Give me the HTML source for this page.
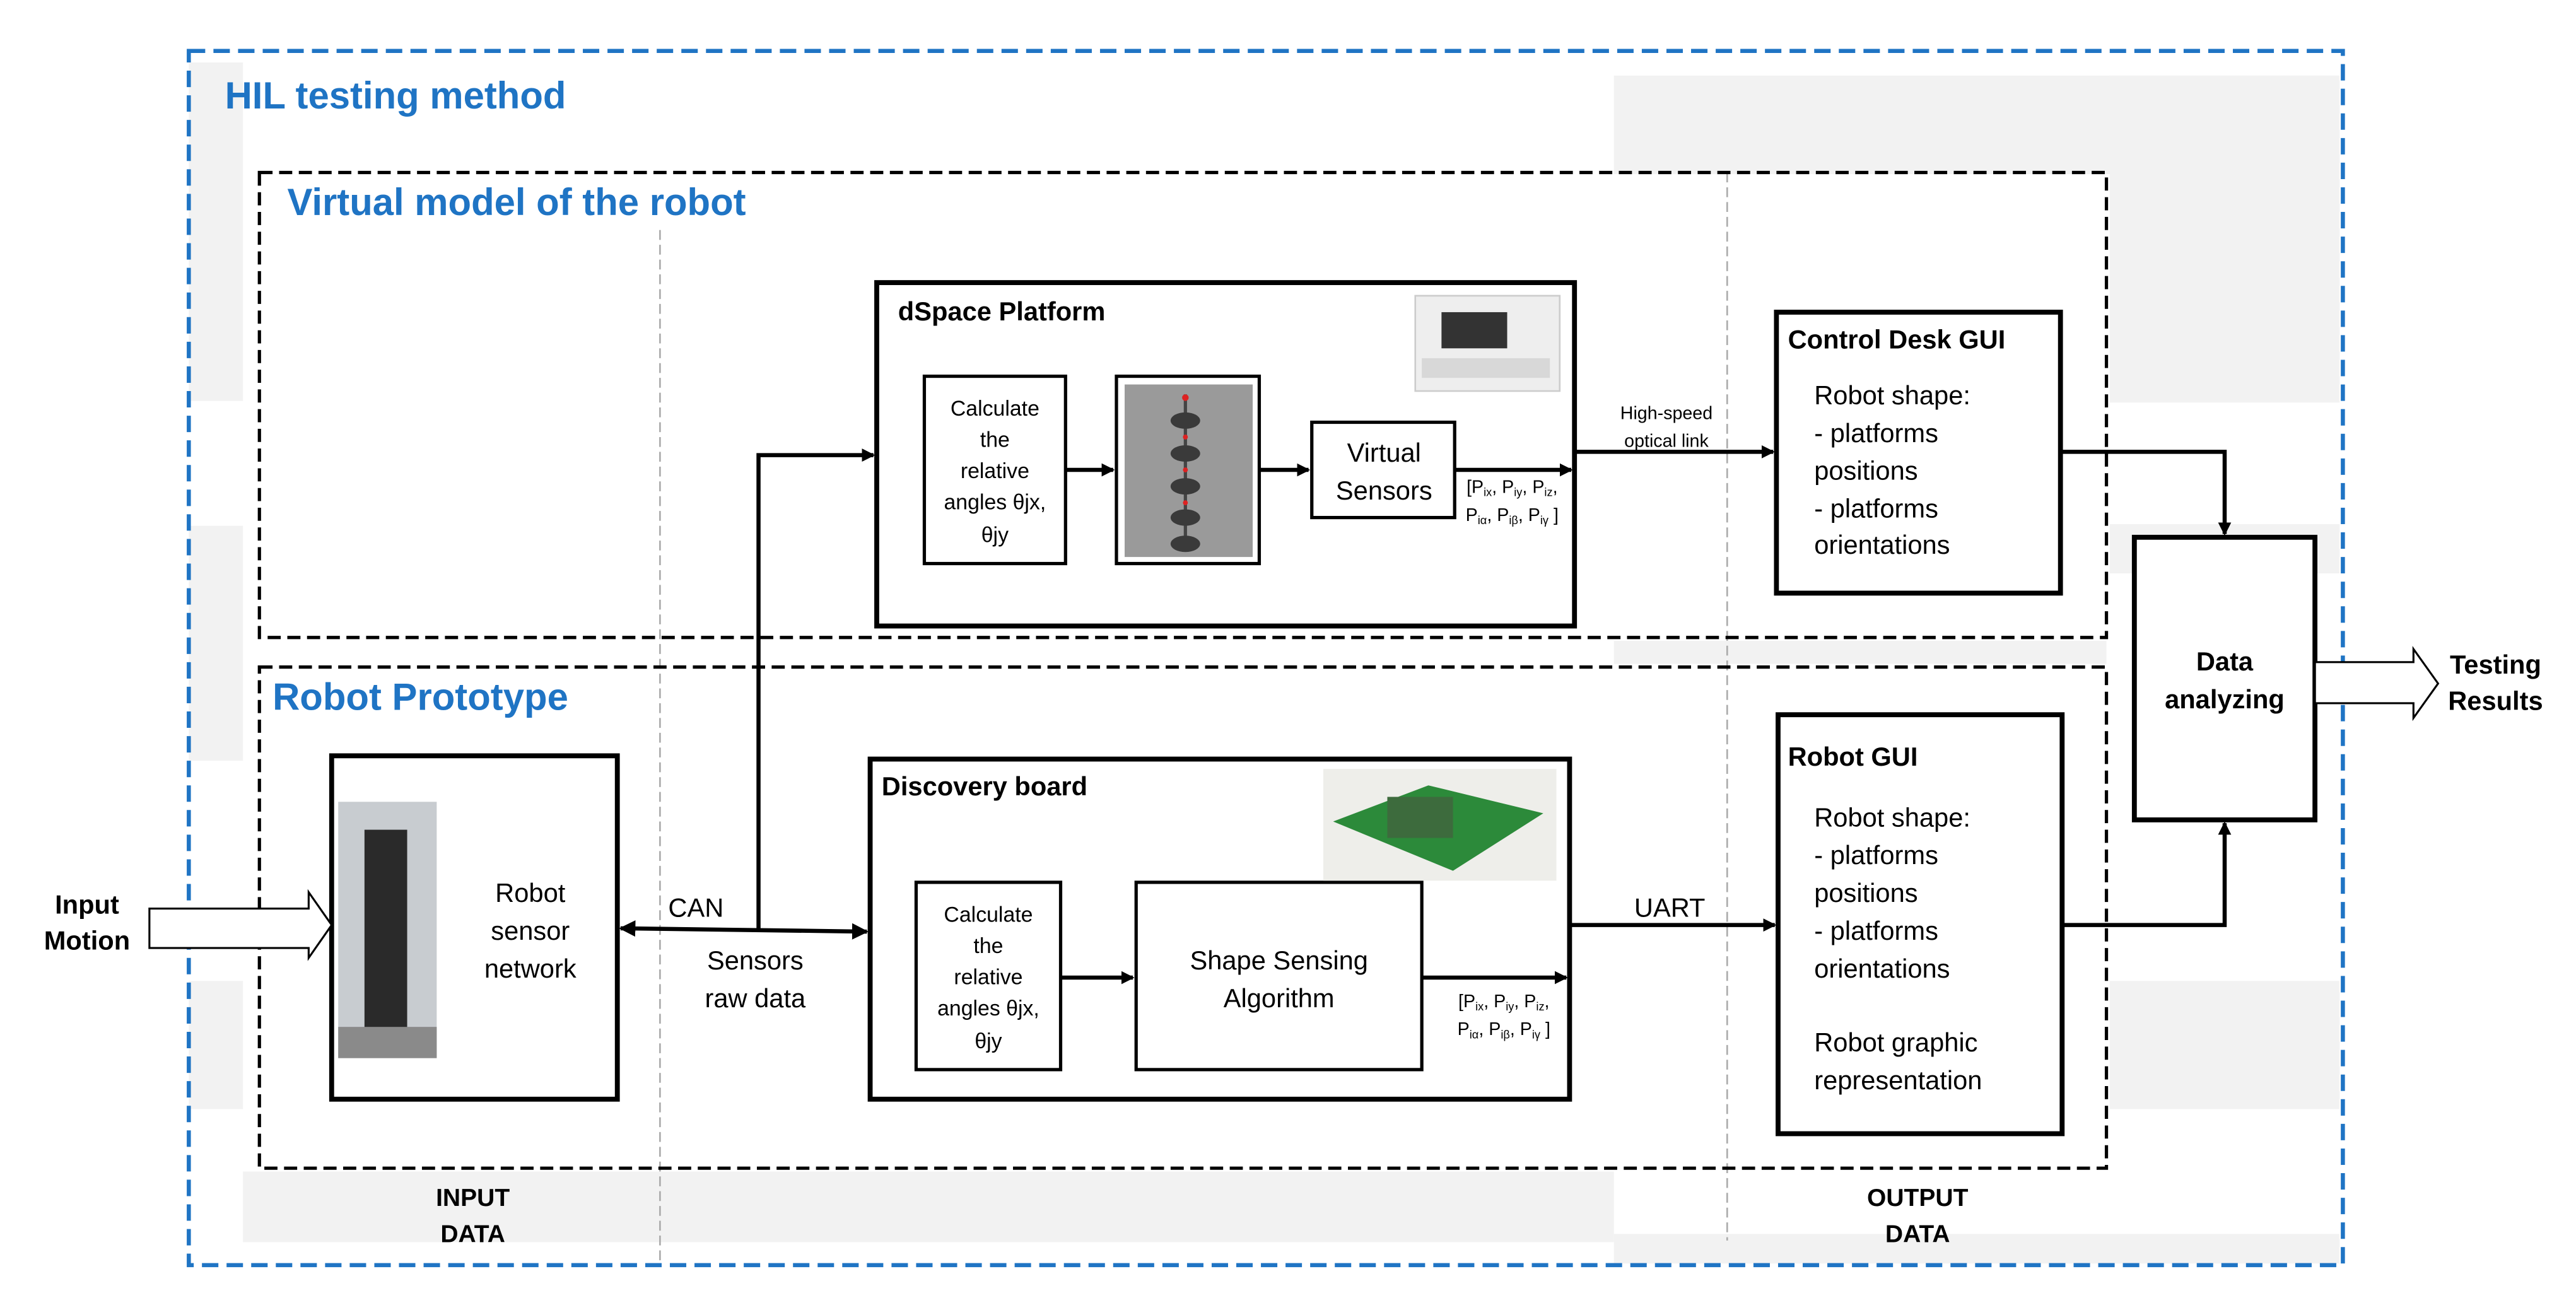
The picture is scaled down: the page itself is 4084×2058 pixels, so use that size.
<!DOCTYPE html>
<html><head><meta charset="utf-8"><style>
html,body{margin:0;padding:0;background:#fff;width:4084px;height:2058px;overflow:hidden}
svg{display:block}
text{font-family:"Liberation Sans",sans-serif}
</style></head><body>
<svg width="4084" height="2058" viewBox="0 0 1569 790" preserveAspectRatio="none" xmlns="http://www.w3.org/2000/svg">
<defs>
<marker id="a" markerWidth="8" markerHeight="8" refX="7" refY="4" orient="auto" markerUnits="userSpaceOnUse" viewBox="0 0 8 8"><path d="M0,0 L8,4 L0,8 z" fill="#000"/></marker>
<marker id="as" markerWidth="10" markerHeight="10" refX="9" refY="5" orient="auto-start-reverse" markerUnits="userSpaceOnUse" viewBox="0 0 10 10"><path d="M0,0 L10,5 L0,10 z" fill="#000"/></marker>
</defs>
<g fill="#f2f2f2">
<rect x="115" y="38" width="33" height="206"/>
<rect x="115" y="320" width="33" height="143"/>
<rect x="115" y="597" width="33" height="78"/>
<rect x="983" y="46" width="442" height="60"/>
<rect x="1285" y="46" width="140" height="199"/>
<rect x="1285" y="319" width="140" height="30"/>
<rect x="1285" y="597" width="140" height="78"/>
<rect x="983" y="390" width="300" height="14"/>
<rect x="148" y="713" width="835" height="43"/>
<rect x="983" y="751" width="442" height="18"/>
</g>
<rect x="115" y="31" width="1312" height="739" fill="none" stroke="#1f74c4" stroke-width="2.5" stroke-dasharray="10,5"/>
<text x="137" y="66" font-size="23" font-weight="bold" fill="#1f74c4">HIL testing method</text>
<line x1="402" y1="140" x2="402" y2="770" stroke="#aaa" stroke-width="1" stroke-dasharray="6,3"/>
<line x1="1052" y1="105" x2="1052" y2="755" stroke="#aaa" stroke-width="1" stroke-dasharray="6,3"/>
<rect x="158" y="105" width="1125" height="283" fill="none" stroke="#000" stroke-width="2" stroke-dasharray="8,4"/>
<text x="175" y="131" font-size="23" font-weight="bold" fill="#1f74c4">Virtual model of the robot</text>
<rect x="158" y="406" width="1125" height="305" fill="none" stroke="#000" stroke-width="2" stroke-dasharray="8,4"/>
<text x="166" y="432" font-size="23" font-weight="bold" fill="#1f74c4">Robot Prototype</text>

<g fill="none" stroke="#000">
<rect x="534" y="172" width="425" height="209" stroke-width="3" fill="#fff"/>
<rect x="563" y="229" width="86" height="114" stroke-width="2"/>
<rect x="680" y="229" width="87" height="114" stroke-width="2"/>
<rect x="799" y="257" width="87" height="58" stroke-width="2"/>
<rect x="1082" y="190" width="173" height="171" stroke-width="3" fill="#fff"/>
<rect x="1300" y="327" width="110" height="172" stroke-width="3" fill="#fff"/>
<rect x="1083" y="435" width="173" height="255" stroke-width="3" fill="#fff"/>
<rect x="202" y="460" width="174" height="209" stroke-width="3" fill="#fff"/>
<rect x="530" y="462" width="426" height="207" stroke-width="3" fill="#fff"/>
<rect x="558" y="537" width="88" height="114" stroke-width="2"/>
<rect x="692" y="537" width="174" height="114" stroke-width="2"/>
</g>
<rect x="685" y="234" width="78" height="105" fill="#9a9a9a"/>
<line x1="722" y1="240" x2="722" y2="330" stroke="#444" stroke-width="2"/>
<g fill="#3a3a3a">
<ellipse cx="722" cy="256" rx="9" ry="5"/><ellipse cx="722" cy="276" rx="9" ry="5"/><ellipse cx="722" cy="296" rx="9" ry="5"/><ellipse cx="722" cy="315" rx="9" ry="5"/><ellipse cx="722" cy="331" rx="9" ry="5"/>
</g>
<g fill="#d22"><circle cx="722" cy="242" r="2"/><circle cx="722" cy="266" r="1.5"/><circle cx="722" cy="286" r="1.5"/><circle cx="722" cy="306" r="1.5"/></g>
<rect x="862" y="180" width="88" height="58" fill="#eeeeee" stroke="#ccc"/>
<rect x="878" y="190" width="40" height="22" fill="#333"/>
<rect x="866" y="218" width="78" height="12" fill="#d8d8d8"/>
<rect x="806" y="468" width="142" height="68" fill="#eeeeea"/>
<polygon points="812,500 870,478 940,495 885,530" fill="#2c8a3a"/>
<rect x="845" y="485" width="40" height="25" fill="#3d6b3d"/>
<rect x="206" y="488" width="60" height="156" fill="#c8ccd0"/>
<rect x="222" y="505" width="26" height="130" fill="#2a2a2a"/>
<rect x="206" y="625" width="60" height="19" fill="#8a8a8a"/>

<g stroke="#000" stroke-width="2.5" fill="none">
<line x1="649" y1="286" x2="678" y2="286" marker-end="url(#a)"/>
<line x1="767" y1="286" x2="797" y2="286" marker-end="url(#a)"/>
<line x1="886" y1="286" x2="957" y2="286" marker-end="url(#a)"/>
<line x1="959" y1="275" x2="1080" y2="275" marker-end="url(#a)"/>
<polyline points="1255,275 1355,275 1355,325" marker-end="url(#a)"/>
<polyline points="1256,563 1355,563 1355,501" marker-end="url(#a)"/>
<line x1="956" y1="563" x2="1081" y2="563" marker-end="url(#a)"/>
<line x1="378" y1="565" x2="528" y2="567" marker-start="url(#as)" marker-end="url(#as)"/>
<polyline points="462,566 462,277 532,277" marker-end="url(#a)"/>
<line x1="646" y1="595" x2="690" y2="595" marker-end="url(#a)"/>
<line x1="866" y1="595" x2="954" y2="595" marker-end="url(#a)"/>
</g>
<polygon points="1410,403 1470,403 1470,395 1485,416 1470,437 1470,428 1410,428" fill="#fff" stroke="#000" stroke-width="1.2"/>
<polygon points="91,553 188,553 188,543 202,563 188,583 188,577 91,577" fill="#fff" stroke="#000" stroke-width="1.2"/>

<g font-size="16" fill="#000">
<text x="547" y="195" font-weight="bold">dSpace Platform</text>
<text x="1089" y="212" font-weight="bold">Control Desk GUI</text>
<text x="1089" y="466" font-weight="bold">Robot GUI</text>
<text x="537" y="484" font-weight="bold">Discovery board</text>
<g text-anchor="middle">
<text x="843" y="281">Virtual</text><text x="843" y="304">Sensors</text>
<text x="779" y="590">Shape Sensing</text><text x="779" y="613">Algorithm</text>
<text x="323" y="549">Robot</text><text x="323" y="572">sensor</text><text x="323" y="595">network</text>
<text x="460" y="590">Sensors</text><text x="460" y="613">raw data</text>
<text x="1355" y="408" font-weight="bold">Data</text><text x="1355" y="431" font-weight="bold">analyzing</text>
<text x="1520" y="410" font-weight="bold">Testing</text><text x="1520" y="432" font-weight="bold">Results</text>
<text x="53" y="556" font-weight="bold">Input</text><text x="53" y="578" font-weight="bold">Motion</text>
<text x="288" y="734" font-weight="bold" font-size="15">INPUT</text><text x="288" y="756" font-weight="bold" font-size="15">DATA</text>
<text x="1168" y="734" font-weight="bold" font-size="15">OUTPUT</text><text x="1168" y="756" font-weight="bold" font-size="15">DATA</text>
<text x="1017" y="558">UART</text>
</g>
<text x="407" y="558">CAN</text>
<text x="1105" y="246">Robot shape:</text><text x="1105" y="269">- platforms</text><text x="1105" y="292">positions</text><text x="1105" y="315">- platforms</text><text x="1105" y="337">orientations</text>
<text x="1105" y="503">Robot shape:</text><text x="1105" y="526">- platforms</text><text x="1105" y="549">positions</text><text x="1105" y="572">- platforms</text><text x="1105" y="595">orientations</text><text x="1105" y="640">Robot graphic</text><text x="1105" y="663">representation</text>
</g>
<g font-size="13" fill="#000" text-anchor="middle">
<text x="606" y="253">Calculate</text><text x="606" y="272">the</text><text x="606" y="291">relative</text><text x="606" y="310">angles θjx,</text><text x="606" y="330">θjy</text>
<text x="602" y="561">Calculate</text><text x="602" y="580">the</text><text x="602" y="599">relative</text><text x="602" y="618">angles θjx,</text><text x="602" y="638">θjy</text>
</g>
<g font-size="11" fill="#000" text-anchor="middle">
<text x="1015" y="255">High-speed</text><text x="1015" y="272">optical link</text>
<text x="921" y="300">[P<tspan font-size="7" dy="2">ix</tspan><tspan dy="-2">, P</tspan><tspan font-size="7" dy="2">iy</tspan><tspan dy="-2">, P</tspan><tspan font-size="7" dy="2">iz</tspan><tspan dy="-2">,</tspan></text>
<text x="921" y="317">P<tspan font-size="7" dy="2">iα</tspan><tspan dy="-2">, P</tspan><tspan font-size="7" dy="2">iβ</tspan><tspan dy="-2">, P</tspan><tspan font-size="7" dy="2">iγ</tspan><tspan dy="-2"> ]</tspan></text>
<text x="916" y="613">[P<tspan font-size="7" dy="2">ix</tspan><tspan dy="-2">, P</tspan><tspan font-size="7" dy="2">iy</tspan><tspan dy="-2">, P</tspan><tspan font-size="7" dy="2">iz</tspan><tspan dy="-2">,</tspan></text>
<text x="916" y="630">P<tspan font-size="7" dy="2">iα</tspan><tspan dy="-2">, P</tspan><tspan font-size="7" dy="2">iβ</tspan><tspan dy="-2">, P</tspan><tspan font-size="7" dy="2">iγ</tspan><tspan dy="-2"> ]</tspan></text>
</g>
</svg>
</body></html>
